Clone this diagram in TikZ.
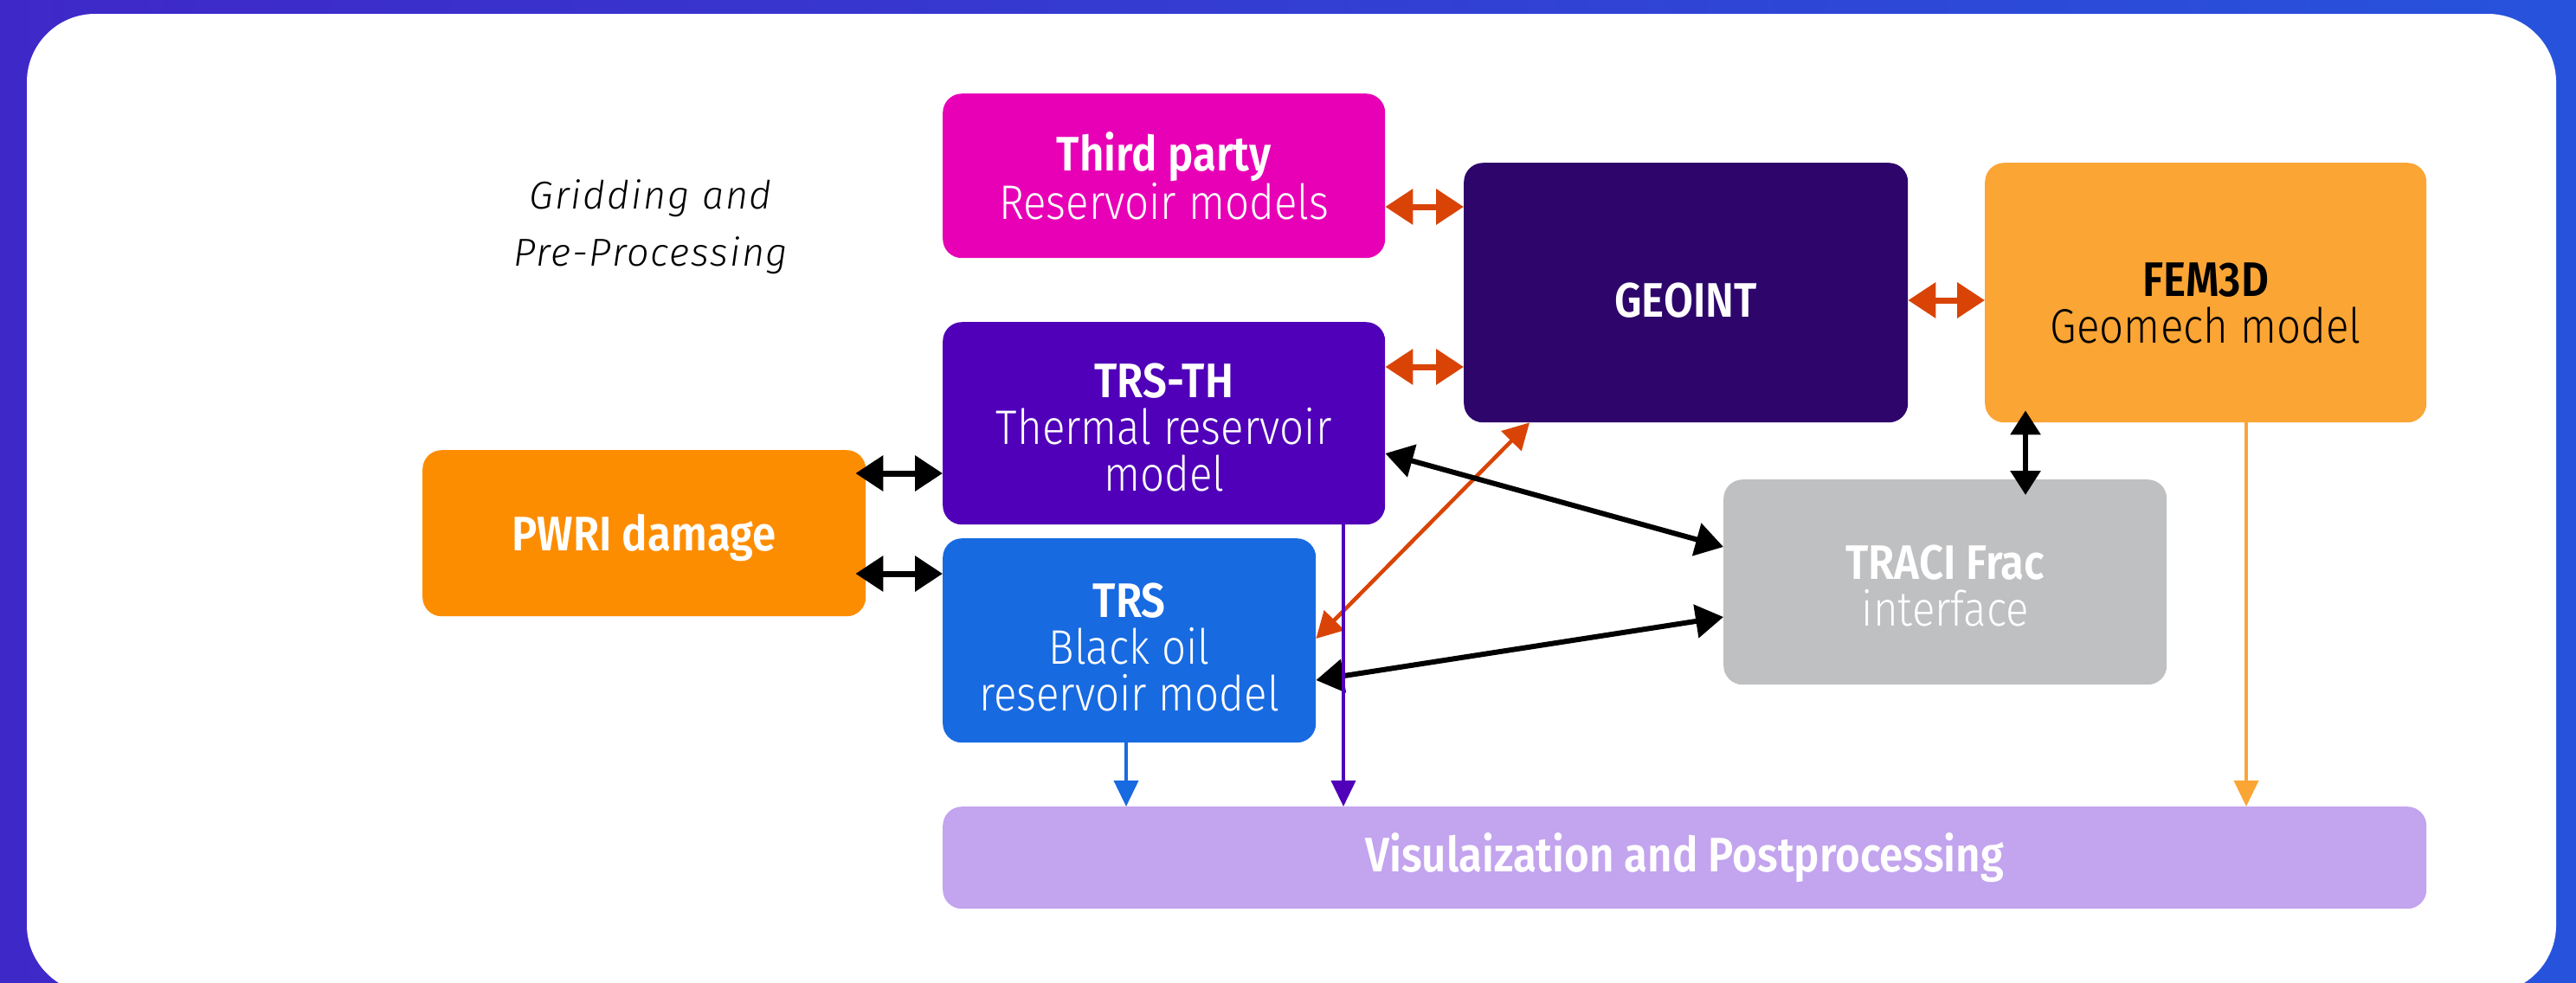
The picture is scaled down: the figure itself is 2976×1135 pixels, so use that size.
\documentclass[tikz,border=0pt]{standalone}
\usepackage{fontspec}
\setmainfont{Fira Sans}[FakeStretch=0.88, UprightFont={Fira Sans Light}, BoldFont={Fira Sans SemiBold}]
\newfontfamily\gridfont{Fira Sans}[LetterSpace=4, ItalicFont={Fira Sans Light Italic}]
\usetikzlibrary{arrows.meta}
\definecolor{bgL}{HTML}{3F28C8}
\definecolor{bgR}{HTML}{2753DC}
\definecolor{cThird}{HTML}{E800B6}
\definecolor{cGeo}{HTML}{2E066B}
\definecolor{cFem}{HTML}{FBA535}
\definecolor{cTrsth}{HTML}{5000B8}
\definecolor{cPwri}{HTML}{FD8D00}
\definecolor{cTrs}{HTML}{186AE1}
\definecolor{cTraci}{HTML}{BFC0C2}
\definecolor{cVis}{HTML}{C3A4EE}
\definecolor{cOrg}{HTML}{D94406}
\tikzset{
  box/.style={rounded corners=22pt, inner sep=0pt, anchor=north west},
  lbl/.style={font=\fontsize{56}{54}\selectfont, text=white, align=center},
  dbl/.style={line width=7pt, {Triangle[length=32pt,width=40pt]}-{Triangle[length=32pt,width=40pt]}},
  diag/.style={line width=6pt, {Triangle[length=32pt,width=38pt]}-{Triangle[length=32pt,width=38pt]}},
  thin/.style={line width=4pt, -{Triangle[length=30pt,width=28pt]}},
}
\begin{document}
\begin{tikzpicture}[x=1pt,y=-1pt]
\useasboundingbox (0,0) rectangle (2976,1135);
\clip (0,0) rectangle (2976,1135);
\shade[left color=bgL, right color=bgR] (0,0) rectangle (2976,1135);
\fill[white, rounded corners=79pt] (31,16) rectangle (2953,1148);

\node[font=\gridfont\fontsize{45}{66}\selectfont\itshape, align=center] (grid) at (752,262) {Gridding and\\Pre-Processing};

\node[box, fill=cThird, minimum width=511pt, minimum height=190pt] (third) at (1089,108) {};
\node[lbl] at (third.center) {\textbf{Third party}\\Reservoir models};

\node[box, fill=cGeo, minimum width=513pt, minimum height=300pt] (geoint) at (1691,188) {};
\node[lbl, font=\fontsize{56}{54}\selectfont\bfseries] at ([yshift=-9pt]geoint.center) {GEOINT};

\node[box, fill=cFem, minimum width=510pt, minimum height=300pt] (fem) at (2293,188) {};
\node[lbl, text=black] at ([yshift=-12pt]fem.center) {\textbf{FEM3D}\\Geomech model};

\node[box, fill=cTrsth, minimum width=511pt, minimum height=234pt] (trsth) at (1089,372) {};
\node[lbl] at ([yshift=-5pt]trsth.center) {\textbf{TRS-TH}\\Thermal reservoir\\model};

\node[box, fill=cPwri, minimum width=512pt, minimum height=192pt] (pwri) at (488,520) {};
\node[lbl, font=\fontsize{56}{54}\selectfont\bfseries] at ([yshift=-5pt]pwri.center) {PWRI damage};

\node[box, fill=cTrs, minimum width=431pt, minimum height=236pt] (trs) at (1089,622) {};
\node[lbl] at ([yshift=-8pt]trs.center) {\textbf{TRS}\\Black oil\\reservoir model};

\node[box, fill=cTraci, minimum width=512pt, minimum height=237pt] (traci) at (1991,554) {};
\node[lbl] at ([yshift=-4pt]traci.center) {\textbf{TRACI Frac}\\interface};

\node[box, fill=cVis, minimum width=1714pt, minimum height=118pt] (vis) at (1089,932) {};
\node[lbl, font=\fontsize{56}{54}\selectfont\bfseries] at (vis.center) {Visulaization and Postprocessing};

% orange double arrows
\draw[dbl, cOrg] (third.east |- 0,239) -- (geoint.west |- 0,239);
\draw[dbl, cOrg] (trsth.east |- 0,424) -- (geoint.west |- 0,424);
\draw[dbl, cOrg] (geoint.east |- 0,347) -- (fem.west |- 0,347);
\draw[cOrg, line width=4.5pt, {Triangle[length=30pt,width=32pt]}-{Triangle[length=30pt,width=32pt]}] (geoint.south -| 1767,0) -- (trs.east |- 0,738);
% black double arrows
\draw[black, line width=6pt, {Triangle[length=28pt,width=34pt]}-{Triangle[length=28pt,width=34pt]}] ([yshift=14pt]fem.south -| 2340,0) -- ([yshift=-18pt]traci.north -| 2340,0);
\draw[diag, black] (trsth.east |- 0,524) -- (traci.west |- 0,632);
\draw[diag, black] (trs.east |- 0,786) -- (traci.west |- 0,713);
\draw[dbl, black] ([xshift=-12pt]pwri.east |- 0,547) -- (trsth.west |- 0,547);
\draw[dbl, black] ([xshift=-12pt]pwri.east |- 0,663) -- (trs.west |- 0,663);
% single arrows to visualization
\draw[thin, cTrs] (trs.south -| 1301,0) -- (vis.north -| 1301,0);
\draw[thin, cTrsth] (trsth.south -| 1552,0) -- (vis.north -| 1552,0);
\draw[thin, cFem] (fem.south -| 2595,0) -- (vis.north -| 2595,0);
\end{tikzpicture}
\end{document}
